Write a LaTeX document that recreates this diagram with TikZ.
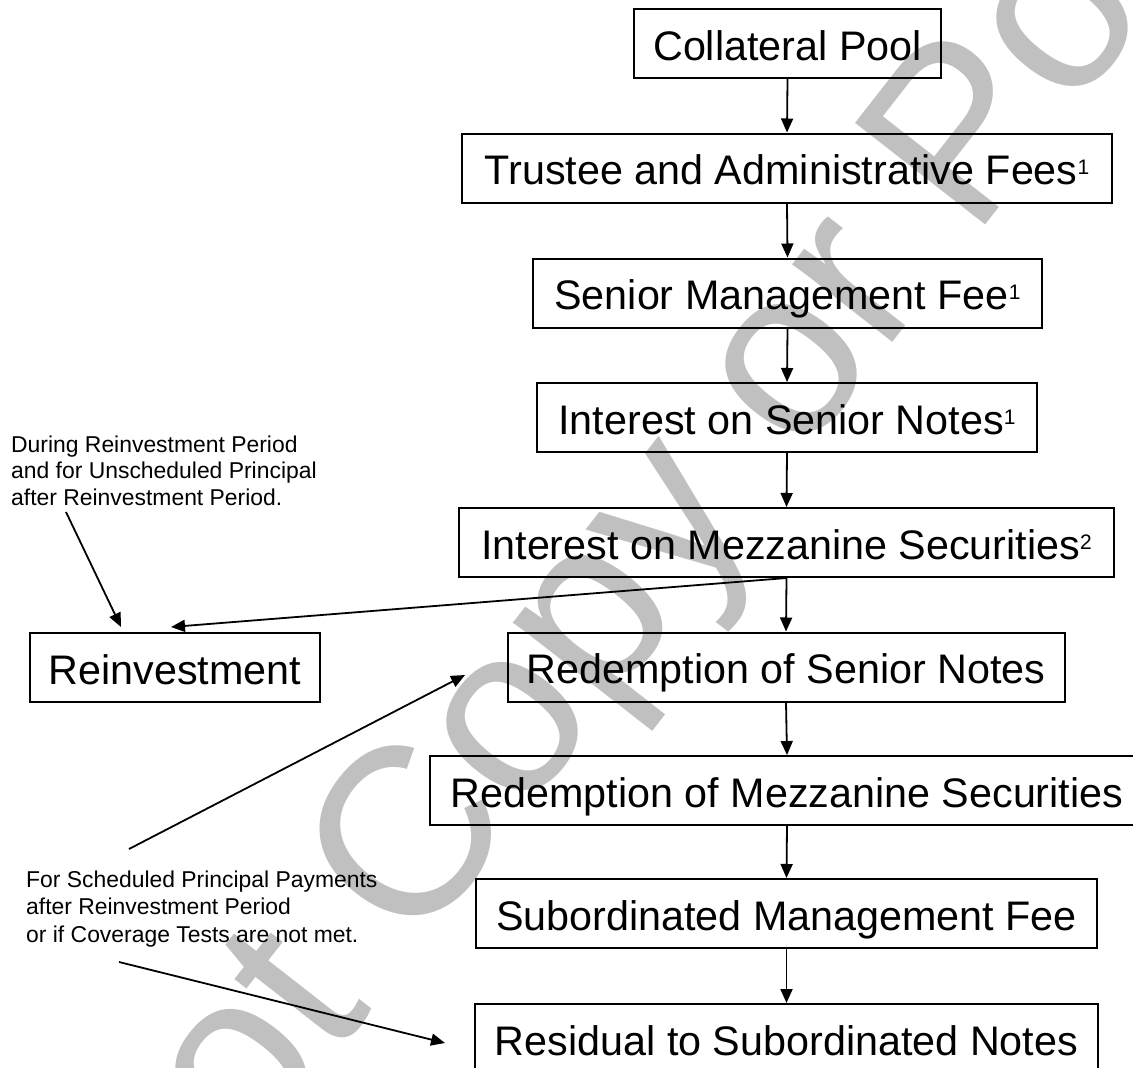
\documentclass[tikz,border=0pt]{standalone}
\usepackage{fontspec}
\setmainfont{Liberation Sans}
\usetikzlibrary{arrows.meta}
\definecolor{wmgray}{RGB}{192,192,192}
\newcommand\supnum[1]{\raisebox{10pt}{\fontsize{21pt}{21pt}\selectfont #1}}
\begin{document}
\begin{tikzpicture}[x=1pt,y=-1pt,
  box/.style={draw=black, line width=2pt, inner xsep=0pt, inner ysep=0pt,
    text height=51pt, text depth=18pt, minimum height=69pt,
    font=\fontsize{41.3pt}{47pt}\selectfont},
  note/.style={inner sep=0pt, anchor=base west, font=\fontsize{22.9pt}{26.5pt}\selectfont},
  arr/.style={line width=1.8pt, -{Triangle[length=14pt,width=12pt]}},
  wm/.style={text=wmgray, inner sep=0pt, font=\fontsize{240pt}{240pt}\selectfont}]
\useasboundingbox (0,0) rectangle (1133,1068);
\clip (0,0) rectangle (1133,1068);
% watermark
\node[wm, rotate=52, anchor=base west] (wmark) at (-86,1596) {Do Not Copy or Post};
% main column
\node[box, minimum width=307pt] (b1) at (787.5,43.5) {Collateral Pool};
\node[box, minimum width=650pt] (b2) at (787,168) {Trustee and Administrative Fees\supnum{1}};
\node[box, minimum width=509pt] (b3) at (787.5,293) {Senior Management Fee\supnum{1}};
\node[box, minimum width=500pt] (b4) at (787,417.5) {Interest on Senior Notes\supnum{1}};
\node[box, minimum width=655pt] (b5) at (786.5,542.5) {Interest on Mezzanine Securities\supnum{2}};
\node[box, minimum width=557pt] (b6) at (786,667) {Redemption of Senior Notes};
\node[box, minimum width=714pt] (b7) at (787,790.5) {Redemption of Mezzanine Securities};
\node[box, minimum width=621pt] (b8) at (786.5,913.5) {Subordinated Management Fee};
\node[box, minimum width=623pt] (b9) at (786.5,1038.5) {Residual to Subordinated Notes};
\node[box, minimum width=290pt] (r) at (175,667.5) {Reinvestment};
% notes
\node[note] (n1) at (11,452) {\vtop{\baselineskip=26.5pt\hbox{During Reinvestment Period}\hbox{and for Unscheduled Principal}\hbox{after Reinvestment Period.}}};
\node[note] (n2) at (26,887) {\vtop{\baselineskip=27.5pt\hbox{For Scheduled Principal Payments}\hbox{after Reinvestment Period}\hbox{or if Coverage Tests are not met.}}};
% flow arrows
\draw[arr] (b1.south) -- (b2.north);
\draw[arr] (b2.south) -- (b3.north);
\draw[arr] (b3.south) -- (b4.north);
\draw[arr] (b4.south) -- (b5.north);
\draw[arr] (b5.south) -- (b6.north);
\draw[arr] (b6.south) -- (b7.north);
\draw[arr] (b7.south) -- (b8.north);
\draw[arr] (b8.south) -- (b9.north);
\draw[arr] (b5.south) -- ([xshift=-4pt,yshift=5pt]r.north);
% note arrows
\draw[arr] ([xshift=55pt,yshift=-60pt]n1.base west) -- ([xshift=-54pt,yshift=5pt]r.north);
\draw[arr] ([xshift=103pt,yshift=38pt]n2.base west) -- ([xshift=-41.5pt,yshift=-8pt]b6.west);
\draw[arr] ([xshift=93pt,yshift=-75pt]n2.base west) -- ([xshift=-29pt,yshift=-4.5pt]b9.west);
\end{tikzpicture}
\end{document}
